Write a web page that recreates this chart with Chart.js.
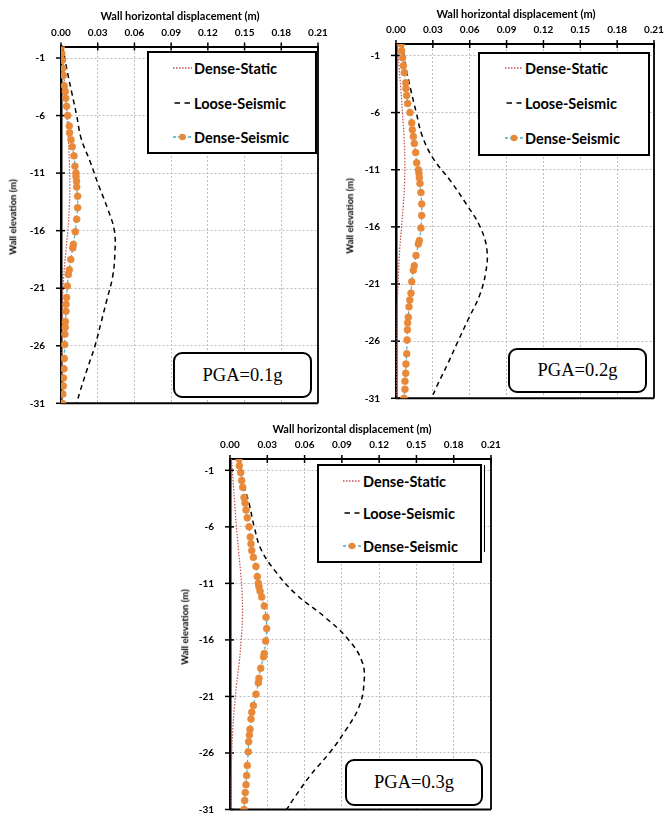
<!DOCTYPE html>
<html>
<head>
<meta charset="utf-8">
<script src="https://cdn.jsdelivr.net/npm/chart.js@4.4.1/dist/chart.umd.min.js"></script>
<style>
  html, body { margin: 0; padding: 0; background: #fff; overflow: hidden; width: 665px; height: 814px; }
  #page { position: relative; width: 665px; height: 814px; }
  #page canvas { position: absolute; }
  .ttl { position: absolute; font-family: Lato, "Liberation Sans", sans-serif; font-weight: bold; color: #000;
         white-space: nowrap; transform: translate(-50%, -50%); line-height: 1; }
  .ttl.vert { transform: translate(-50%, -50%) rotate(-90deg); }
  .legend { position: absolute; border: 2px solid #000; box-sizing: border-box; background: #fff; }
  .legend-row { position: absolute; display: flex; align-items: center; height: 20px; transform: translateY(-50%);
                font: bold 14.5px Lato, "Liberation Sans", sans-serif; color: #000; white-space: nowrap; }
  .legend-row svg { display: block; }
  .legend-tail { position: absolute; width: 1px; background: #000; }
  .pga { position: absolute; border: 2.6px solid #000; border-radius: 9px; box-sizing: border-box; background: #fff;
         display: flex; align-items: center; justify-content: center;
         font-family: "Liberation Serif", "Times New Roman", serif; font-size: 18.5px; color: #000; }
</style>
</head>
<body>
<div id="page"></div>
<script>
// ---- axis ticks ----
const xTickValues = [0, 0.03, 0.06, 0.09, 0.12, 0.15, 0.18, 0.21];
const xTickLabels = ['0.00', '0.03', '0.06', '0.09', '0.12', '0.15', '0.18', '0.21'];
const yTickValues = [-1, -6, -11, -16, -21, -26, -31];

const seriesLabels = ['Dense-Static', 'Loose-Seismic', 'Dense-Seismic'];
const xTitle = 'Wall horizontal displacement (m)';
const yTitle = 'Wall elevation (m)';
const pgaLabels = ['PGA=0.1g', 'PGA=0.2g', 'PGA=0.3g'];

// ---- wall nodes (m) and Dense-Seismic displacement (m) ----
const nodeElevation = [0, -0.6, -1.2, -1.9, -2.5, -3.4, -3.9, -4.5, -5.2, -6.0, -6.9, -7.5, -8.1, -8.7, -9.5,
  -10.4, -11.0, -11.3, -11.7, -12.2, -13.0, -14.0, -15.0, -16.1, -17.2, -17.5, -18.5, -19.4, -19.8, -20.8,
  -21.8, -22.4, -23.0, -23.9, -24.4, -25.0, -25.9, -27.1, -28.0, -28.8, -29.5, -30.2, -31.0];

const denseSeismic01 = [0.0003, 0.0006, 0.0011, 0.0015, 0.0019, 0.0027, 0.0035, 0.0039, 0.0046, 0.0055, 0.0068,
  0.0070, 0.0082, 0.0092, 0.0106, 0.0114, 0.0122, 0.0123, 0.0127, 0.0128, 0.0136, 0.0136, 0.0128, 0.0117, 0.0101,
  0.0096, 0.0080, 0.0068, 0.0060, 0.0052, 0.0046, 0.0041, 0.0041, 0.0036, 0.0035, 0.0032, 0.0030, 0.0027, 0.0024,
  0.0020, 0.0019, 0.0015, 0.0011];
const denseSeismic02 = [0.0041, 0.0046, 0.0054, 0.0060, 0.0068, 0.0079, 0.0081, 0.0087, 0.0095, 0.0114, 0.0128,
  0.0133, 0.0141, 0.0149, 0.0160, 0.0168, 0.0182, 0.0187, 0.0190, 0.0195, 0.0203, 0.0209, 0.0209, 0.0203, 0.0190,
  0.0182, 0.0163, 0.0149, 0.0141, 0.0128, 0.0122, 0.0112, 0.0106, 0.0100, 0.0095, 0.0093, 0.0090, 0.0087, 0.0081,
  0.0079, 0.0073, 0.0073, 0.0065];
const denseSeismic03 = [0.0072, 0.0075, 0.0086, 0.0094, 0.0102, 0.0113, 0.0121, 0.0129, 0.0139, 0.0153, 0.0163,
  0.0169, 0.0175, 0.0188, 0.0209, 0.0220, 0.0228, 0.0233, 0.0242, 0.0255, 0.0276, 0.0290, 0.0295, 0.0287, 0.0276,
  0.0270, 0.0247, 0.0233, 0.0228, 0.0209, 0.0188, 0.0175, 0.0169, 0.0161, 0.0156, 0.0150, 0.0147, 0.0139, 0.0134,
  0.0129, 0.0123, 0.0118, 0.0113];

// ---- profile elevations (m) for the smooth curves ----
const profileElevation = [0, -2, -4, -6, -8, -10, -12, -14, -16, -18, -20, -22, -24, -26, -28, -30, -31];

const denseStatic01 = [0.0008, 0.0022, 0.0035, 0.0048, 0.0060, 0.0068, 0.0072, 0.0068, 0.0056, 0.0038, 0.0022,
  0.0013, 0.0009, 0.0007, 0.0006, 0.0005, 0.0005];
const denseStatic02 = [0.0010, 0.0025, 0.0040, 0.0052, 0.0065, 0.0072, 0.0070, 0.0060, 0.0045, 0.0030, 0.0020,
  0.0013, 0.0009, 0.0007, 0.0006, 0.0005, 0.0005];
const denseStatic03 = [0.0012, 0.0025, 0.0038, 0.0052, 0.0068, 0.0085, 0.0098, 0.0100, 0.0090, 0.0074, 0.0052,
  0.0035, 0.0022, 0.0014, 0.0010, 0.0008, 0.0008];

const looseSeismic01 = [0.0014, 0.0048, 0.0088, 0.0128, 0.0165, 0.0238, 0.0305, 0.0378, 0.0436, 0.0440, 0.0422,
  0.0375, 0.0327, 0.0278, 0.0215, 0.0155, 0.0128];
const looseSeismic02 = [0.0050, 0.0080, 0.0120, 0.0165, 0.0212, 0.0302, 0.0445, 0.0572, 0.0685, 0.0740, 0.0730,
  0.0680, 0.0592, 0.0505, 0.0420, 0.0330, 0.0290];
const looseSeismic03 = [0.0080, 0.0105, 0.0155, 0.0195, 0.0250, 0.0370, 0.0535, 0.0765, 0.0955, 0.1065, 0.1077,
  0.1035, 0.0930, 0.0800, 0.0645, 0.0515, 0.0456];

// ---- page layout of the three panels (pixels) ----
const panels = [
  { canvas: { left: 0, top: 0, w: 332, h: 412 },
    area: { left: 61, top: 46.5, right: 318, bottom: 403.3 },
    xTitleAt: [180, 15], yTitleAt: [13, 217],
    legend: { left: 147, top: 51, right: 317, bottom: 154, sampleX: 173, textX: 194, rows: [68, 103, 137] },
    pga: { left: 173, top: 352, right: 312, bottom: 398 },
    label: pgaLabels[0], stat: denseStatic01, loose: looseSeismic01, seis: denseSeismic01 },
  { canvas: { left: 335, top: 0, w: 330, h: 408 },
    area: { left: 396, top: 44, right: 654, bottom: 398.3 },
    xTitleAt: [516, 13], yTitleAt: [350, 216],
    legend: { left: 478, top: 52, right: 650, bottom: 156, sampleX: 505, textX: 525, rows: [68, 103, 138] },
    pga: { left: 508, top: 348, right: 647, bottom: 393 },
    label: pgaLabels[1], stat: denseStatic02, loose: looseSeismic02, seis: denseSeismic02 },
  { canvas: { left: 168, top: 412, w: 340, h: 402 },
    area: { left: 230, top: 459, right: 491, bottom: 811 },
    xTitleAt: [352, 428], yTitleAt: [185, 627],
    legend: { left: 317, top: 464, right: 482, bottom: 563, sampleX: 343, textX: 363, rows: [481, 513, 546],
              tail: { x: 484, top: 465, bottom: 552 } },
    pga: { left: 345, top: 759, right: 483, bottom: 806 },
    label: pgaLabels[2], stat: denseStatic03, loose: looseSeismic03, seis: denseSeismic03 }
];

const COLORS = { stat: '#C0504D', loose: '#000000', line: '#4BACC6', marker: '#E8893A', grid: '#bdbdbd' };
const TICK_FONT = { family: 'Lato, "Liberation Sans", sans-serif', size: 10, weight: 'bold' };

const page = document.getElementById('page');

function toPoints(xs, ys) {
  return xs.map((x, i) => ({ x: x, y: ys[i] }));
}

// plot frame (right and bottom edges) plus tick marks crossing the axes
const framePlugin = {
  id: 'frame',
  beforeDatasetsDraw(chart) {
    const { ctx, chartArea: ca, scales } = chart;
    ctx.save();
    ctx.strokeStyle = '#000';
    ctx.lineWidth = 1.8;
    ctx.beginPath(); ctx.moveTo(ca.right, ca.top); ctx.lineTo(ca.right, ca.bottom); ctx.stroke();
    ctx.lineWidth = 2;
    ctx.beginPath(); ctx.moveTo(ca.left, ca.bottom); ctx.lineTo(ca.right, ca.bottom); ctx.stroke();
    ctx.lineWidth = 1.5;
    scales.x.ticks.forEach(t => {
      const px = scales.x.getPixelForValue(t.value);
      ctx.beginPath(); ctx.moveTo(px, ca.top - 4); ctx.lineTo(px, ca.top + 4); ctx.stroke();
    });
    scales.y.ticks.forEach(t => {
      const py = scales.y.getPixelForValue(t.value);
      ctx.beginPath(); ctx.moveTo(ca.left - 5, py); ctx.lineTo(ca.left + 4, py); ctx.stroke();
    });
    ctx.restore();
  }
};

function buildChart(p) {
  const c = p.canvas, a = p.area;
  const cv = document.createElement('canvas');
  cv.width = c.w; cv.height = c.h;
  cv.style.left = c.left + 'px'; cv.style.top = c.top + 'px';
  cv.style.width = c.w + 'px'; cv.style.height = c.h + 'px';
  page.appendChild(cv);

  const yW = a.left - c.left;
  const xH = a.top - c.top;
  const padR = c.left + c.w - a.right;
  const padB = c.top + c.h - a.bottom;

  new Chart(cv, {
    type: 'scatter',
    data: {
      datasets: [
        { label: seriesLabels[0], data: toPoints(p.stat, profileElevation), showLine: true, order: 3,
          borderColor: COLORS.stat, borderWidth: 1.2, borderDash: [1.5, 1.5], pointRadius: 0, tension: 0.4 },
        { label: seriesLabels[1], data: toPoints(p.loose, profileElevation), showLine: true, order: 2,
          borderColor: COLORS.loose, borderWidth: 1.5, borderDash: [5, 4], pointRadius: 0, tension: 0.4 },
        { label: seriesLabels[2], data: toPoints(p.seis, nodeElevation), showLine: true, order: 1,
          borderColor: COLORS.line, borderWidth: 1.2, borderDash: [3, 2], tension: 0.2,
          pointRadius: 3.5, pointBackgroundColor: COLORS.marker, pointBorderColor: COLORS.marker, pointBorderWidth: 0.5 }
      ]
    },
    options: {
      responsive: false,
      animation: false,
      devicePixelRatio: 1,
      layout: { padding: { left: 0, top: 0, right: padR, bottom: padB } },
      plugins: { legend: { display: false }, tooltip: { enabled: false } },
      scales: {
        x: {
          type: 'linear', position: 'top', min: 0, max: 0.21,
          afterBuildTicks: s => { s.ticks = xTickValues.map(v => ({ value: v })); },
          afterFit: s => { s.height = xH; s.paddingLeft = 0; s.paddingRight = 0; },
          ticks: { font: TICK_FONT, color: '#000', padding: 4, maxRotation: 0,
                   callback: (v, i) => xTickLabels[i] },
          grid: { color: COLORS.grid, lineWidth: 1, drawTicks: true, tickLength: 4, tickWidth: 0 },
          border: { display: true, color: '#000', width: 2, dash: [2, 2] }
        },
        y: {
          type: 'linear', position: 'left', min: -31, max: 0,
          afterBuildTicks: s => { s.ticks = yTickValues.map(v => ({ value: v })); },
          afterFit: s => { s.width = yW; s.paddingTop = 0; s.paddingBottom = 0; },
          ticks: { font: TICK_FONT, color: '#000', padding: 10, callback: v => String(v) },
          grid: { color: COLORS.grid, lineWidth: 1, drawTicks: true, tickLength: 6, tickWidth: 0 },
          border: { display: true, color: '#000', width: 2.5, dash: [2, 2] }
        }
      }
    },
    plugins: [framePlugin]
  });
}

function addTitle(text, at, size, vertical) {
  const d = document.createElement('div');
  d.className = 'ttl' + (vertical ? ' vert' : '');
  d.style.left = at[0] + 'px'; d.style.top = at[1] + 'px';
  d.style.fontSize = size + 'px';
  d.textContent = text;
  page.appendChild(d);
}

function sampleSvg(kind, w) {
  const mid = w / 2;
  if (kind === 0) {
    return `<svg width="${w}" height="10"><line x1="0" y1="5" x2="${w}" y2="5" stroke="${COLORS.stat}" stroke-width="1.3" stroke-dasharray="1.5 1.5"/></svg>`;
  }
  if (kind === 1) {
    return `<svg width="${w}" height="10"><line x1="1.5" y1="5" x2="${w - 1.5}" y2="5" stroke="#000" stroke-width="1.6" stroke-dasharray="5.5 4.5"/></svg>`;
  }
  return `<svg width="${w}" height="10"><line x1="0" y1="5" x2="${w}" y2="5" stroke="${COLORS.line}" stroke-width="1.3" stroke-dasharray="3 2"/>` +
         `<circle cx="${mid}" cy="5" r="3.3" fill="${COLORS.marker}"/></svg>`;
}

function addLegend(L) {
  const box = document.createElement('div');
  box.className = 'legend';
  box.style.left = L.left + 'px'; box.style.top = L.top + 'px';
  box.style.width = (L.right - L.left) + 'px'; box.style.height = (L.bottom - L.top) + 'px';
  page.appendChild(box);
  const sw = L.textX - L.sampleX - 2;
  seriesLabels.forEach((name, i) => {
    const row = document.createElement('div');
    row.className = 'legend-row';
    row.style.left = L.sampleX + 'px'; row.style.top = L.rows[i] + 'px';
    row.innerHTML = sampleSvg(i, sw) + `<span style="margin-left:2px">${name}</span>`;
    page.appendChild(row);
  });
  if (L.tail) {
    const t = document.createElement('div');
    t.className = 'legend-tail';
    t.style.left = L.tail.x + 'px'; t.style.top = L.tail.top + 'px';
    t.style.height = (L.tail.bottom - L.tail.top) + 'px';
    page.appendChild(t);
  }
}

function addPga(b, text) {
  const d = document.createElement('div');
  d.className = 'pga';
  d.style.left = b.left + 'px'; d.style.top = b.top + 'px';
  d.style.width = (b.right - b.left) + 'px'; d.style.height = (b.bottom - b.top) + 'px';
  d.textContent = text;
  page.appendChild(d);
}

panels.forEach(p => {
  buildChart(p);
  addTitle(xTitle, p.xTitleAt, 11, false);
  addTitle(yTitle, p.yTitleAt, 9.5, true);
  addLegend(p.legend);
  addPga(p.pga, p.label);
});
</script>
</body>
</html>
